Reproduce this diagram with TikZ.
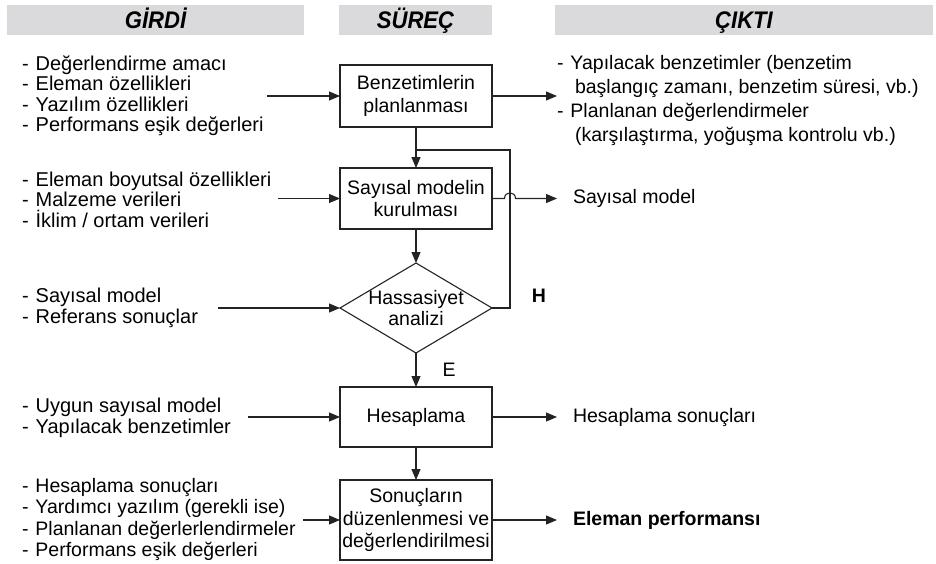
\documentclass[tikz,border=0pt]{standalone}
\usepackage{fontspec}
\setmainfont{Liberation Sans}
\usetikzlibrary{arrows.meta,shapes.geometric}
\definecolor{hdr}{RGB}{218,218,220}
\definecolor{lnc}{RGB}{35,35,35}
\newcommand{\itm}{-\hspace{7pt}}
\newcommand{\cnt}{\hspace{18pt}}
\newcommand{\hdtxt}[1]{\scalebox{0.92}[1]{#1}}
\begin{document}
\begin{tikzpicture}[x=1pt,y=-1pt,
  every node/.style={inner sep=0pt,outer sep=0pt,text=black},
  hdrbar/.style={fill=hdr,draw=none,minimum height=30pt,text height=17pt,text depth=0pt,font=\fontsize{24}{24}\selectfont\bfseries\itshape},
  proc/.style={draw=lnc,line width=1.1pt,minimum width=152pt,align=center,font=\fontsize{19.5}{22.5}\selectfont},
  lst/.style={anchor=west,align=left,font=\fontsize{20}{20.5}\selectfont},
  rlst/.style={anchor=west,align=left,font=\fontsize{19.5}{24}\selectfont},
  lbl/.style={anchor=west,font=\fontsize{19.5}{22}\selectfont},
  arr/.style={draw=lnc,line width=1.1pt,-{Triangle[length=11pt,width=9pt]}},
  lnk/.style={draw=lnc,line width=1.1pt}
]
\useasboundingbox (0,0) rectangle (936,563);
% headers
\node[hdrbar,minimum width=297pt] (h1) at (155.5,20) {\hdtxt{GİRDİ}};
\node[hdrbar,minimum width=153pt] (h2) at (415.5,20) {\hdtxt{SÜREÇ}};
\node[hdrbar,minimum width=378pt] (h3) at (744,20) {\hdtxt{ÇIKTI}};
% process boxes
\node[proc,minimum height=62pt] (b1) at (416,96) {Benzetimlerin\\planlanması};
\node[proc,minimum height=61pt] (b2) at (416,198.5) {Sayısal modelin\\kurulması};
\coordinate (dT) at (416,263);
\coordinate (dB) at (416,353);
\coordinate (dL) at (340,308);
\coordinate (dR) at (492,308);
\draw[lnk,line join=miter] (dT) -- (dR) -- (dB) -- (dL) -- cycle;
\node[align=center,font=\fontsize{19.5}{21}\selectfont] (dtx) at (416,308) {Hassasiyet\\analizi};
\node[proc,minimum height=60pt] (b4) at (416,417) {Hesaplama};
\node[proc,minimum height=80pt] (b5) at (416,520) {Sonuçların\\düzenlenmesi ve\\değerlendirilmesi};
% vertical flow
\draw[arr] (b1.south) -- (b2.north);
\draw[arr] (b2.south) -- (dT);
\draw[arr] (dB) -- (b4.north);
\draw[arr] (b4.south) -- (b5.north);
% loop back
\coordinate (lpT) at (510,150);
\coordinate (jn) at (416,150);
\draw[lnk] (dR) -| (lpT) -- (jn);
\node[font=\fontsize{19.5}{20}\selectfont\bfseries] (H) at (539,296) {H};
\node[font=\fontsize{19.5}{20}\selectfont] (E) at (449,370) {E};
% inputs
\node[lst] (i1) at (22,95.5) {\itm Değerlendirme amacı\\\itm Eleman özellikleri\\\itm Yazılım özellikleri\\\itm Performans eşik değerleri};
\node[lst] (i2) at (22,199.5) {\itm Eleman boyutsal özellikleri\\\itm Malzeme verileri\\\itm İklim / ortam verileri};
\node[lst] (i3) at (22,308) {\itm Sayısal model\\\itm Referans sonuçlar};
\node[lst] (i4) at (22,418) {\itm Uygun sayısal model\\\itm Yapılacak benzetimler};
\node[lst,font=\fontsize{19.5}{21.5}\selectfont] (i5) at (22,519.5) {\itm Hesaplama sonuçları\\\itm Yardımcı yazılım (gerekli ise)\\\itm Planlanan değerlerlendirmeler\\\itm Performans eşik değerleri};
\coordinate (s1) at (267,96);
\coordinate (s2) at (278,198.5);
\coordinate (s3) at (218,308);
\coordinate (s4) at (248,417);
\coordinate (s5) at (303,520);
\draw[arr] (s1) -- (b1.west);
\draw[arr] (s2) -- (b2.west);
\draw[arr] (s3) -- (dL);
\draw[arr] (s4) -- (b4.west);
\draw[arr] (s5) -- (b5.west);
% outputs
\coordinate (e1) at (557,96);
\coordinate (e2) at (557,198.5);
\coordinate (e4) at (557,417);
\coordinate (e5) at (557,520);
\draw[arr] (b1.east) -- (e1);
\draw[arr] (b2.east) -- (504.5,198.5) .. controls (504.5,191) and (515.5,191) .. (515.5,198.5) -- (e2);
\draw[arr] (b4.east) -- (e4);
\draw[arr] (b5.east) -- (e5);
\node[rlst] (o1) at (557,100) {\itm Yapılacak benzetimler (benzetim\\\cnt başlangıç zamanı, benzetim süresi, vb.)\\\itm Planlanan değerlendirmeler\\\cnt (karşılaştırma, yoğuşma kontrolu vb.)};
\node[lbl] (o2) at (573,198.5) {Sayısal model};
\node[lbl] (o4) at (573,417) {Hesaplama sonuçları};
\node[lbl,font=\fontsize{19.5}{22}\selectfont\bfseries] (o5) at (573,520) {Eleman performansı};
\end{tikzpicture}
\end{document}
